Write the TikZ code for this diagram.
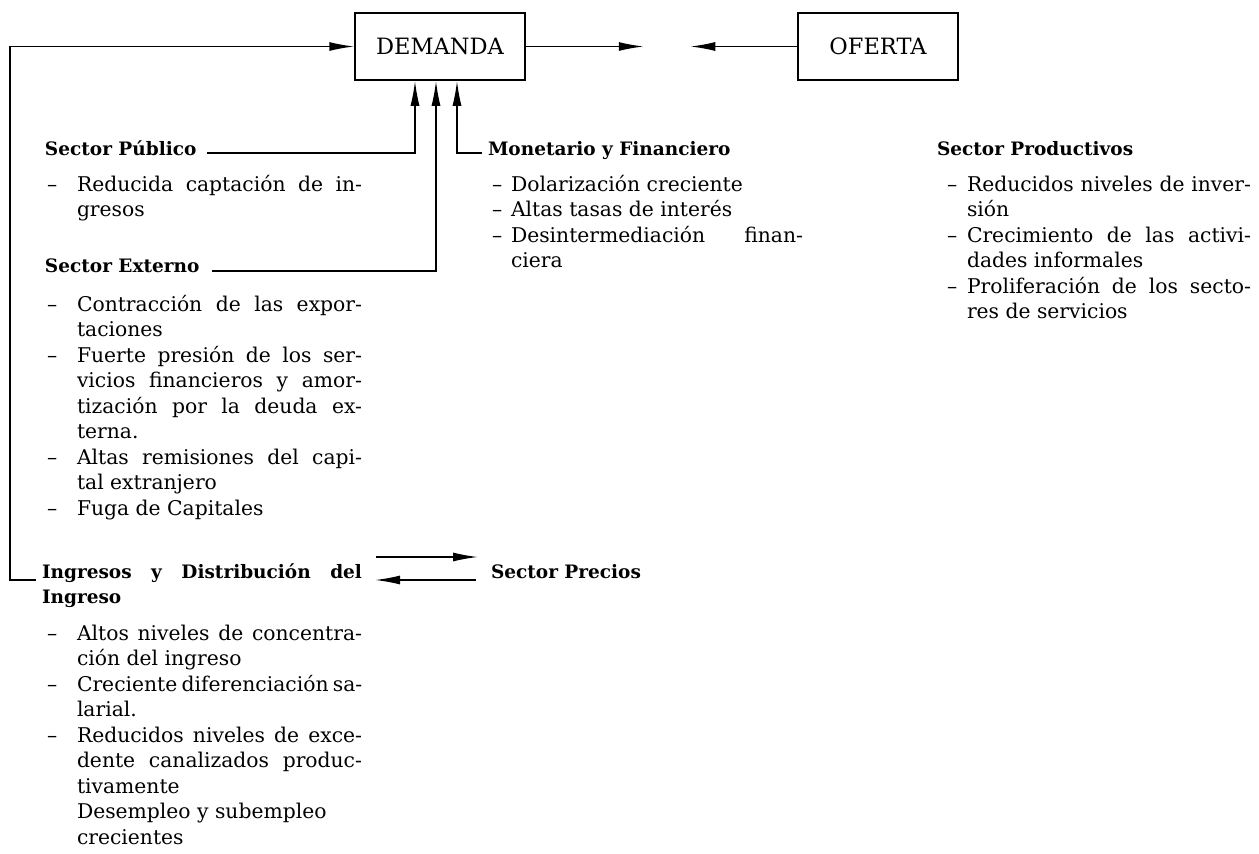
\documentclass[tikz,border=0pt]{standalone}
\usepackage{fontspec}
\setmainfont{DejaVu Serif}
\usetikzlibrary{arrows.meta,calc}
\newcommand{\bodyf}{\fontsize{20.3}{25}\selectfont}
\newcommand{\headf}{\fontsize{18.5}{25}\selectfont\bfseries}
\newcommand{\boxf}{\fontsize{22.5}{26}\selectfont}
\newcommand{\jl}[2]{\makebox[#1pt][s]{#2}}
\begin{document}
\begin{tikzpicture}[x=1pt,y=-1pt,
  ln/.style={anchor=base west, inner sep=0pt, outer sep=0pt, font=\bodyf},
  hd/.style={anchor=base west, inner sep=0pt, outer sep=0pt, font=\headf},
  box/.style={draw, line width=1.5pt, minimum width=170pt, minimum height=67pt, inner sep=0pt, font=\boxf},
  arr/.style={line width=1.5pt, -{Latex[length=25pt,width=9pt]}}]
\useasboundingbox (0,0) rectangle (1259,854);

% boxes
\node[box] (dem) at (440,46.5) {DEMANDA};
\node[box, minimum width=160pt] (ofe) at (878,46.5) {OFERTA};

% left column
\node[hd] (pub) at (45,155) {Sector Público};
\node[ln] (d1) at (47,191) {–};
\node[ln] (l1a) at (77,191) {\jl{285}{Reducida captación de in-}};
\node[ln] (l1b) at (77,216.5) {gresos};
\node[hd] (ext) at (45,272) {Sector Externo};
\node[ln] (d2) at (47,311) {–};
\node[ln] (l2a) at (77,311) {\jl{285}{Contracción de las expor-}};
\node[ln] (l2b) at (77,336.5) {taciones};
\node[ln] (d3) at (47,362) {–};
\node[ln] (l3a) at (77,362) {\jl{285}{Fuerte presión de los ser-}};
\node[ln] (l3b) at (77,387.5) {\jl{285}{vicios financieros y amor-}};
\node[ln] (l3c) at (77,413) {\jl{285}{tización por la deuda ex-}};
\node[ln] (l3d) at (77,438.5) {terna.};
\node[ln] (d4) at (47,464) {–};
\node[ln] (l4a) at (77,464) {\jl{285}{Altas remisiones del capi-}};
\node[ln] (l4b) at (77,489.5) {tal extranjero};
\node[ln] (d5) at (47,515) {–};
\node[ln] (l5a) at (77,515) {Fuga de Capitales};
\node[hd] (ing) at (42,578) {\makebox[320pt][s]{Ingresos y Distribución del}};
\node[hd] (ing2) at (42,603) {Ingreso};
\node[ln] (d6) at (47,640) {–};
\node[ln] (l6a) at (77,640) {\jl{285}{Altos niveles de concentra-}};
\node[ln] (l6b) at (77,665.5) {ción del ingreso};
\node[ln] (d7) at (47,691) {–};
\node[ln] (l7a) at (77,691) {\jl{285}{Creciente diferenciación sa-}};
\node[ln] (l7b) at (77,716.5) {larial.};
\node[ln] (d8) at (47,742) {–};
\node[ln] (l8a) at (77,742) {\jl{285}{Reducidos niveles de exce-}};
\node[ln] (l8b) at (77,767.5) {\jl{285}{dente canalizados produc-}};
\node[ln] (l8c) at (77,793) {tivamente};
\node[ln] (l8d) at (77,818.5) {Desempleo y subempleo};
\node[ln] (l8e) at (77,844) {crecientes};

\node[hd] (pre) at (491,578) {Sector Precios};

% middle column
\node[hd] (mon) at (488,155) {Monetario y Financiero};
\node[ln] (m1) at (492,191) {–};
\node[ln] (m1a) at (511,191) {Dolarización creciente};
\node[ln] (m2) at (492,216.5) {–};
\node[ln] (m2a) at (511,216.5) {Altas tasas de interés};
\node[ln] (m3) at (492,242) {–};
\node[ln] (m3a) at (511,242) {\jl{292}{Desintermediación finan-}};
\node[ln] (m3b) at (511,267.5) {ciera};

% right column
\node[hd] (pro) at (937,155) {Sector Productivos};
\node[ln] (r1) at (947,191) {–};
\node[ln] (r1a) at (967,191) {\jl{284}{Reducidos niveles de inver-}};
\node[ln] (r1b) at (967,216.5) {sión};
\node[ln] (r2) at (947,242) {–};
\node[ln] (r2a) at (967,242) {\jl{284}{Crecimiento de las activi-}};
\node[ln] (r2b) at (967,267.5) {dades informales};
\node[ln] (r3) at (947,293) {–};
\node[ln] (r3a) at (967,293) {\jl{284}{Proliferación de los secto-}};
\node[ln] (r3b) at (967,318.5) {res de servicios};

% connectors
\coordinate (pubL) at (207,153);
\coordinate (extL) at (212,271);
\coordinate (monL) at (482,153);
\draw[arr] (pubL) -| ($(dem.south)+(-25,0)$);
\draw[arr] (extL) -| ($(dem.south)+(-4,0)$);
\draw[arr] (monL) -| ($(dem.south)+(17,0)$);

\coordinate (fbS) at (36,580);
\draw[arr] (fbS) -- ++(-26,0) |- (dem.west);

\draw[arr] (dem.east) -- ++(118,0);
\draw[arr] (ofe.west) -- ++(-107,0);

\coordinate (pa1) at (376,557);
\coordinate (pa2) at (478,557);
\coordinate (pb1) at (375,580);
\coordinate (pb2) at (476,580);
\draw[arr] (pa1) -- (pa2);
\draw[arr] (pb2) -- (pb1);
\end{tikzpicture}
\end{document}
